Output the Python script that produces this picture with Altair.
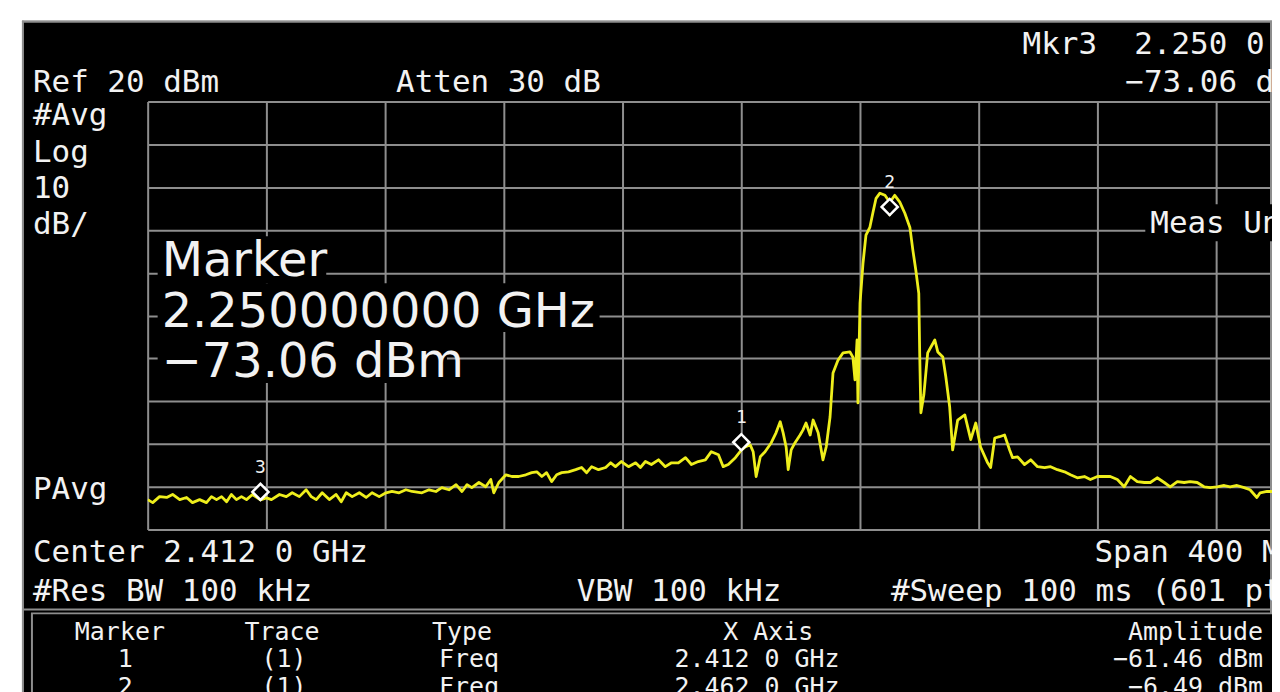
import altair as alt
import pandas as pd

# ---------------- data ----------------
trace_freq_mhz = [
    2212.0, 2213.7, 2216.0, 2218.4, 2220.4, 2222.8, 2225.1, 2227.1, 2229.5, 2231.8,
    2233.5, 2235.2, 2236.9, 2238.6, 2240.2, 2241.9, 2243.6, 2245.3, 2247.3, 2250.0,
    2252.0, 2253.7, 2256.4, 2258.7, 2260.7, 2263.1, 2265.4, 2267.1, 2268.8, 2270.8,
    2273.2, 2275.5, 2277.2, 2278.9, 2280.9, 2283.3, 2285.6, 2287.6, 2290.0, 2292.3,
    2294.3, 2296.7, 2299.0, 2301.1, 2304.4, 2306.8, 2309.1, 2311.1, 2313.5, 2315.9,
    2317.9, 2319.6, 2321.2, 2323.6, 2325.9, 2327.6, 2328.6, 2330.3, 2332.7, 2334.7,
    2337.0, 2339.4, 2341.4, 2343.1, 2344.8, 2346.4, 2348.1, 2349.8, 2351.5, 2353.8,
    2356.2, 2358.2, 2359.9, 2361.6, 2363.9, 2366.3, 2368.0, 2369.6, 2371.6, 2374.0,
    2376.4, 2378.0, 2379.7, 2381.7, 2384.1, 2386.4, 2388.5, 2390.8, 2393.2, 2395.2,
    2397.5, 2399.9, 2401.9, 2404.3, 2405.9, 2407.6, 2410.0, 2412.0, 2413.3, 2415.0,
    2416.0, 2417.0, 2418.4, 2420.0, 2422.1, 2423.7, 2425.1, 2426.1, 2427.1, 2427.8,
    2428.8, 2430.1, 2431.8, 2432.8, 2433.8, 2435.2, 2436.2, 2437.9, 2439.5, 2440.6,
    2441.9, 2442.9, 2444.6, 2446.3, 2448.6, 2449.6, 2450.3, 2451.0, 2451.3, 2452.0,
    2453.0, 2454.0, 2455.3, 2456.3, 2457.4, 2458.7, 2460.4, 2461.5, 2462.0, 2462.6,
    2463.7, 2465.4, 2467.1, 2468.8, 2469.8, 2470.8, 2471.8, 2472.1, 2472.5, 2473.5,
    2474.8, 2477.2, 2478.2, 2479.9, 2480.9, 2482.2, 2483.2, 2484.9, 2487.3, 2489.3,
    2491.0, 2492.6, 2495.0, 2496.0, 2497.4, 2499.0, 2500.7, 2502.4, 2503.4, 2505.1,
    2507.4, 2509.5, 2511.8, 2514.2, 2516.2, 2518.5, 2520.9, 2522.9, 2525.2, 2527.6,
    2529.6, 2532.0, 2534.3, 2536.3, 2538.7, 2541.0, 2543.1, 2545.4, 2547.8, 2549.8,
    2552.1, 2554.5, 2556.5, 2558.9, 2561.2, 2563.2, 2565.6, 2567.9, 2570.0, 2572.3,
    2574.7, 2576.7, 2579.0, 2581.4, 2583.4, 2585.7, 2586.8, 2589.1, 2590.8,
]
trace_amp_dbm = [
    -73.0, -73.7, -72.3, -72.5, -71.8, -73.0, -72.5, -73.7, -73.0, -73.7,
    -72.3, -73.0, -72.3, -73.5, -71.8, -73.0, -72.3, -73.0, -71.8, -73.06,
    -72.6, -73.0, -71.8, -72.3, -71.4, -72.3, -70.7, -72.3, -73.0, -71.4,
    -73.0, -71.8, -73.5, -71.4, -72.3, -71.4, -72.5, -71.4, -72.3, -71.4,
    -71.1, -71.4, -70.7, -71.1, -71.4, -70.7, -71.1, -70.2, -70.7, -69.5,
    -71.1, -69.5, -70.2, -69.0, -70.0, -68.3, -71.4, -69.0, -67.2, -67.6,
    -67.6, -67.2, -66.7, -66.5, -67.6, -66.7, -68.8, -67.2, -66.7, -66.5,
    -66.0, -65.5, -66.7, -65.3, -66.0, -65.5, -64.4, -65.3, -64.1, -65.3,
    -64.4, -65.5, -64.1, -64.8, -63.7, -65.3, -64.4, -64.4, -63.2, -64.8,
    -64.1, -63.7, -61.8, -62.5, -65.3, -64.8, -63.2, -61.46, -60.7, -60.2,
    -61.8, -67.6, -63.0, -61.8, -59.7, -57.4, -54.8, -57.4, -60.7, -66.0,
    -61.4, -59.7, -57.9, -56.7, -55.1, -57.9, -54.4, -57.4, -63.7, -60.7,
    -53.7, -43.4, -40.4, -38.7, -38.5, -39.7, -45.0, -35.7, -50.4, -27.1,
    -17.8, -11.2, -9.4, -6.1, -2.6, -1.4, -1.9, -3.0, -6.49, -3.0,
    -1.9, -3.5, -6.1, -9.4, -14.7, -19.4, -24.8, -38.7, -52.7, -48.5,
    -38.7, -35.7, -38.5, -39.7, -44.3, -51.3, -61.4, -54.4, -53.2, -59.0,
    -55.1, -60.7, -64.4, -65.5, -58.6, -58.3, -57.9, -61.4, -63.2, -63.0,
    -64.8, -63.7, -65.3, -65.5, -65.3, -66.0, -66.5, -67.2, -67.9, -67.6,
    -68.3, -67.6, -67.6, -67.6, -68.3, -70.0, -67.6, -68.8, -69.0, -69.0,
    -67.9, -69.0, -70.0, -68.8, -69.0, -68.8, -69.0, -70.0, -70.2, -70.0,
    -69.7, -70.0, -69.7, -70.2, -70.7, -72.5, -71.4, -71.1, -71.1,
]
marker_labels = ["1", "2", "3"]
marker_freq_ghz = [2.412, 2.462, 2.250]
marker_amp_dbm = [-61.46, -6.49, -73.06]

freq_grid_ghz = [2.212, 2.252, 2.292, 2.332, 2.372, 2.412, 2.452, 2.492, 2.532, 2.572]
amp_grid_dbm = [20, 10, 0, -10, -20, -30, -40, -50, -60, -70, -80]
x_domain_ghz = [2.212, 2.5908]
y_domain_dbm = [-80, 20]

# ---------------- layout / style ----------------
W, H = 1127, 429
PAD = {"left": 140, "top": 93, "right": 0, "bottom": 162}
OX, OY = 148, 101  # page position of plot origin
GRID = "#8e8e8e"
YEL = "#eeee1c"
WHITE = "#f2f2f2"
MONO = "DejaVu Sans Mono"
SANS = "DejaVu Sans"


def px(x):
    return x - OX


def py(y):
    return y - OY


one = pd.DataFrame({"k": [0]})


def rect(x1, y1, x2, y2, fill, stroke=None, sw=0):
    kw = {"fill": fill}
    if stroke:
        kw["stroke"] = stroke
        kw["strokeWidth"] = sw
    else:
        kw["strokeWidth"] = 0
    return alt.Chart(one).mark_rect(**kw).encode(
        x=alt.value(px(x1)), x2=alt.value(px(x2)),
        y=alt.value(py(y1)), y2=alt.value(py(y2)))


def hrule(x1, x2, y, color=GRID, sw=2):
    return alt.Chart(one).mark_rule(color=color, strokeWidth=sw).encode(
        x=alt.value(px(x1)), x2=alt.value(px(x2)), y=alt.value(py(y)))


def vrule(x, y1, y2, color=GRID, sw=2):
    return alt.Chart(one).mark_rule(color=color, strokeWidth=sw).encode(
        x=alt.value(px(x)), y=alt.value(py(y1)), y2=alt.value(py(y2)))


def txt(s, x, y, size=31, font=MONO, align="left", color=WHITE):
    return alt.Chart(one).mark_text(
        font=font, fontSize=size, align=align, baseline="alphabetic", color=color
    ).encode(x=alt.value(px(x)), y=alt.value(py(y)), text=alt.value(s))


trace_df = pd.DataFrame({"freq": [f / 1000 for f in trace_freq_mhz], "amp": trace_amp_dbm})
mk_df = pd.DataFrame({"id": marker_labels, "freq": marker_freq_ghz, "amp": marker_amp_dbm})

xs = alt.Scale(domain=x_domain_ghz, nice=False, zero=False)
ys = alt.Scale(domain=y_domain_dbm, nice=False, zero=False)
x_axis = alt.Axis(values=freq_grid_ghz, grid=True, labels=False, ticks=False, domain=False,
                  title=None, gridColor=GRID, gridWidth=2, gridOpacity=1)
y_axis = alt.Axis(values=amp_grid_dbm, grid=True, labels=False, ticks=False, domain=False,
                  title=None, gridColor=GRID, gridWidth=2, gridOpacity=1)

trace = alt.Chart(trace_df).mark_line(color=YEL, strokeWidth=2.8, strokeJoin="round", clip=True).encode(
    x=alt.X("freq:Q", scale=xs, axis=x_axis),
    y=alt.Y("amp:Q", scale=ys, axis=y_axis),
)

diamonds = alt.Chart(mk_df).mark_point(
    shape="diamond", size=260, filled=True, fill="black", stroke="white",
    strokeWidth=2.5, opacity=1, yOffset=-8
).encode(x=alt.X("freq:Q", scale=xs), y=alt.Y("amp:Q", scale=ys))

mk_text = alt.Chart(mk_df).mark_text(
    font=MONO, fontSize=18, color=WHITE, baseline="middle", align="center", dy=-32
).encode(x=alt.X("freq:Q", scale=xs), y=alt.Y("amp:Q", scale=ys), text="id:N")

m3_freq = f"{marker_freq_ghz[2]:.9f} GHz"
m3_amp = f"{marker_amp_dbm[2]:.2f} dBm".replace("-", "\u2212")

layers = [
    # white photo margins and frame of the instrument screen
    rect(0, 0, 1280, 20, "white"),
    rect(0, 0, 22, 700, "white"),
    hrule(22, 1275, 21),
    vrule(23, 20, 700),
    vrule(1274, 20, 700),
    # trace
    trace,
    # marker readout with its own black boxes
    rect(158, 236, 327, 283, "black"),
    rect(158, 283, 601, 332, "black"),
    rect(158, 332, 448, 383, "black"),
    txt("Marker", 162, 276, 48, SANS),
    txt(m3_freq, 162, 327, 48, SANS),
    txt(m3_amp, 162, 377, 48, SANS),
    rect(1148, 204, 1280, 241, "black"),
    txt("Meas Uncal", 1153, 233),
    diamonds,
    mk_text,
    # header / side annotations
    txt("Mkr3\u00a0\u00a02.250 0 GHz", 1025, 53),
    txt("Ref 20 dBm", 33, 91),
    txt("Atten 30 dB", 397, 91),
    txt("\u221273.06 dBm", 1128, 91),
    txt("#Avg", 33, 124),
    txt("Log", 33, 162),
    txt("10", 33, 198),
    txt("dB/", 33, 234),
    txt("PAvg", 33, 499),
    txt("Center 2.412 0 GHz", 33, 563),
    txt("Span 400 MHz", 1097, 563),
    txt("#Res BW 100 kHz", 33, 602),
    txt("VBW 100 kHz", 578, 602),
    txt("#Sweep 100 ms (601 pts)", 893, 602),
    # marker table
    hrule(22, 1275, 610),
    rect(32, 614, 1300, 720, "black", GRID, 2),
]

tbl_size = 25
table_rows = [
    [("Marker", 75), ("Trace", 245), ("Type", 433), ("X Axis", 725)],
    [("1", 118), ("(1)", 262), ("Freq", 440), ("2.412 0 GHz", 676)],
    [("2", 118), ("(1)", 262), ("Freq", 440), ("2.462 0 GHz", 676)],
]
amp_col = ["Amplitude", "\u221261.46 dBm", "\u22126.49 dBm"]
row_base = [641, 668, 696]
for row, yb, amp in zip(table_rows, row_base, amp_col):
    for s, x in row:
        layers.append(txt(s, x, yb, tbl_size))
    layers.append(txt(amp, 1266, yb, tbl_size, align="right"))

chart = alt.layer(*layers).properties(
    width=W, height=H,
    padding=PAD,
    autosize=alt.AutoSizeParams(type="none"),
    background="black",
).configure_view(strokeWidth=0)

chart.save("out.html", embed_options={"renderer": "svg", "actions": False})
